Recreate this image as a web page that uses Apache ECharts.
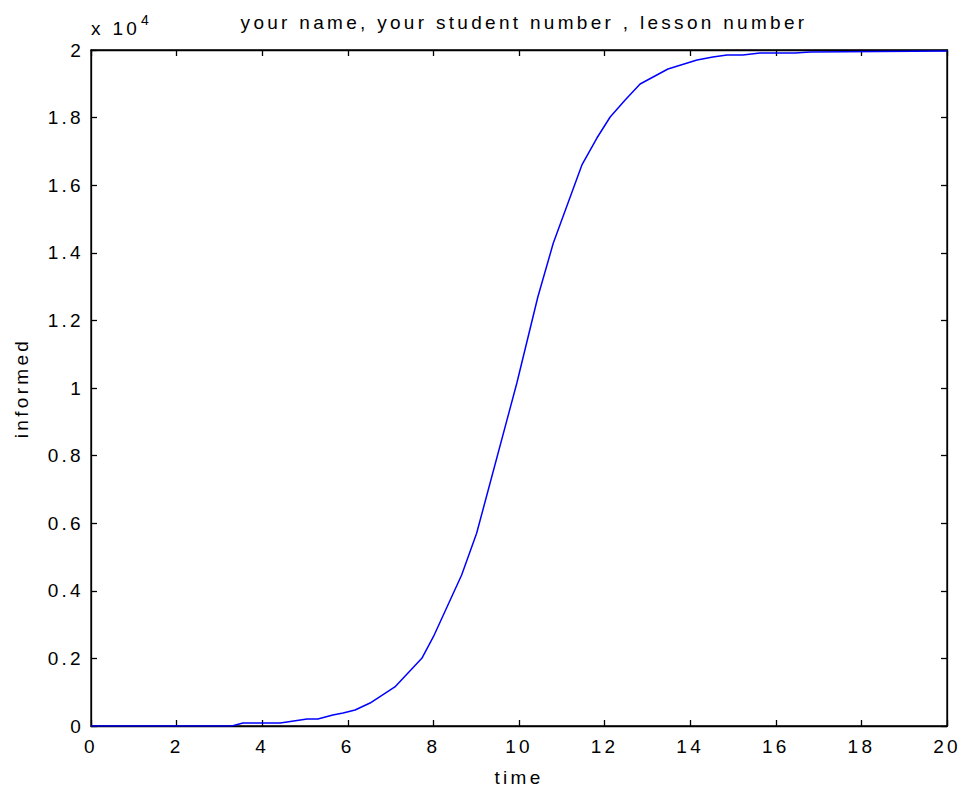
<!DOCTYPE html>
<html>
<head>
<meta charset="utf-8">
<script src="https://cdn.jsdelivr.net/npm/echarts@6/dist/echarts.min.js"></script>
<style>
html,body{margin:0;padding:0;background:#fff;}
#chart{width:963px;height:790px;letter-spacing:3.3px;}
</style>
</head>
<body>
<div id="chart"></div>
<script>
var titleText = 'your name, your student number , lesson number';
var xName = 'time';
var yName = 'informed';
var time = [0, 3.29, 3.55, 4.42, 5.05, 5.30, 5.65, 5.89, 6.17, 6.52, 7.10, 7.73, 8.00, 8.66, 9.01, 9.95, 10.44, 10.80, 11.47, 11.82, 12.13, 12.48, 12.83, 13.48, 14.16, 14.53, 14.86, 15.23, 15.63, 16.45, 16.80, 20];
var informed = [0, 0, 89, 89, 207, 207, 325, 385, 473, 680, 1154, 2003, 2642, 4467, 5701, 10148, 12692, 14281, 16598, 17396, 18018, 18521, 18994, 19438, 19704, 19793, 19852, 19852, 19911, 19911, 19941, 19970];

var pts = time.map(function (t, i) { return [t, informed[i]]; });
var FONT = '"Liberation Sans", Arial, Helvetica, sans-serif';
var FS = 19;
function ls() { return { color: '#000000', width: 1.3, type: 'solid', opacity: 1 }; }
function axLine() { return { show: true, onZero: false, lineStyle: ls() }; }
function tick() { return { show: true, inside: true, length: 6, lineStyle: ls() }; }

var chart = echarts.init(document.getElementById('chart'), null, { renderer: 'svg' });
chart.setOption({
  backgroundColor: '#fff',
  animation: false,
  textStyle: { fontFamily: FONT, color: '#000' },
  title: {
    text: titleText, left: 519, top: 8, textAlign: 'center',
    textStyle: { fontFamily: FONT, fontSize: FS, fontWeight: 'normal', color: '#000' }
  },
  grid: { left: 91, right: 16, top: 50, bottom: 64, outerBoundsMode: 'none', containLabel: false, show: true, borderColor: '#000', borderWidth: 1.3, backgroundColor: 'transparent' },
  xAxis: [{
    type: 'value', min: 0, max: 20, interval: 2,
    name: xName, nameLocation: 'middle', nameGap: 42,
    nameTextStyle: { fontFamily: FONT, fontSize: FS, color: '#000' },
    axisLine: axLine(),
    axisTick: tick(),
    axisLabel: { fontFamily: FONT, fontSize: FS, color: '#000', margin: 11 },
    splitLine: { show: false }
  }, {
    type: 'value', position: 'top', min: 0, max: 20, interval: 2,
    axisLine: axLine(),
    axisTick: tick(), axisLabel: { show: false }, splitLine: { show: false }
  }],
  yAxis: [{
    type: 'value', min: 0, max: 20000, interval: 2000,
    name: yName, nameLocation: 'middle', nameGap: 60, nameRotate: 90,
    nameTextStyle: { fontFamily: FONT, fontSize: FS, color: '#000' },
    axisLine: axLine(),
    axisTick: tick(),
    axisLabel: {
      fontFamily: FONT, fontSize: FS, color: '#000', margin: 7,
      formatter: function (v) { return String(+(v / 10000).toFixed(1)); }
    },
    splitLine: { show: false }
  }, {
    type: 'value', position: 'right', min: 0, max: 20000, interval: 2000,
    axisLine: axLine(),
    axisTick: tick(), axisLabel: { show: false }, splitLine: { show: false }
  }],
  graphic: [
    { type: 'text', x: 91, y: 38, style: { text: 'x 10', font: FS + 'px ' + FONT, fill: '#000', textVerticalAlign: 'bottom' } },
    { type: 'text', x: 141, y: 27, style: { text: '4', font: '14px ' + FONT, fill: '#000', textVerticalAlign: 'bottom' } }
  ],
  series: [{
    type: 'line', data: pts, showSymbol: false, symbol: 'none',
    lineStyle: { color: '#0000ff', width: 1.5 }
  }]
});
</script>
</body>
</html>
